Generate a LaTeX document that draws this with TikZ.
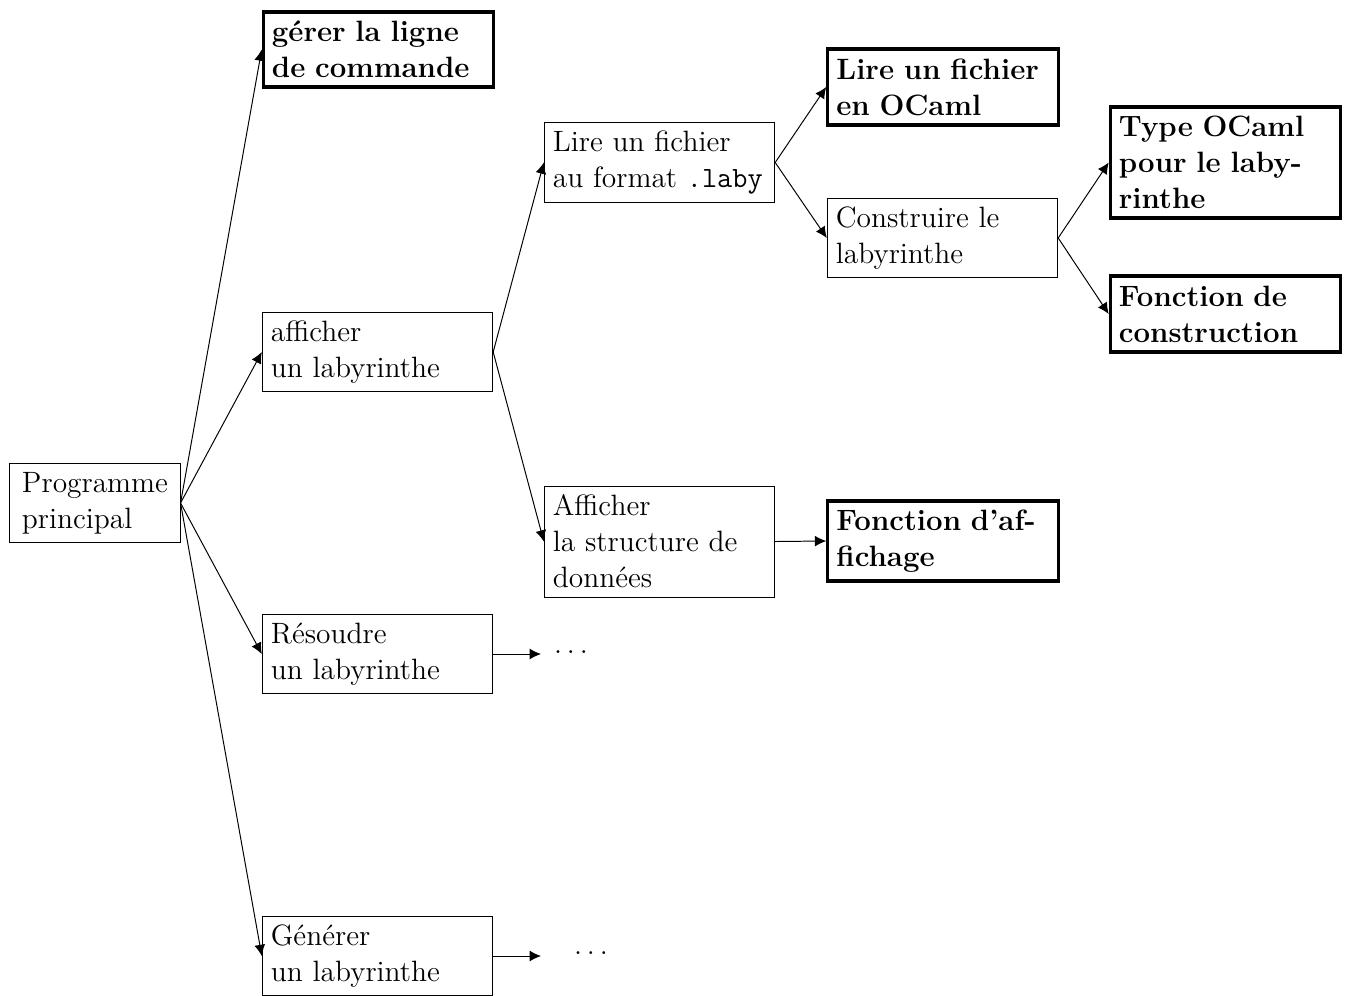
\documentclass[tikz,border=0pt]{standalone}
\usetikzlibrary{arrows.meta}
\begin{document}
\begin{tikzpicture}[x=0.408pt,y=-0.408pt,
  font=\fontsize{12}{14.7}\selectfont,
  box/.style={draw, line width=0.4pt, text width=87pt, align=left, inner xsep=3.5pt, inner ysep=2pt, minimum height=32.6pt},
  strong/.style={box, line width=1.3pt, font=\fontsize{12}{14.7}\selectfont\bfseries},
  arr/.style={-{Latex[length=4.6pt,width=4.4pt]}, line width=0.4pt}]
\clip (0,0) rectangle (1346,995);
\useasboundingbox (0,0) rectangle (1346,995);

\node[draw, line width=0.4pt, align=left, inner xsep=3.5pt, inner ysep=2pt, minimum height=32.6pt, minimum width=69.4pt] (prog) at (95,503) {Programme\\principal};

\node[strong, minimum height=30.6pt] (gerer) at (378.5,49.5) {gérer la ligne\\de commande};
\node[box] (aff) at (377.5,352) {afficher\\un labyrinthe};
\node[box] (res) at (377.5,654) {Résoudre\\un labyrinthe};
\node[box] (gen) at (377.5,956) {Générer\\un labyrinthe};

\node[box] (lire) at (659.5,162.5) {Lire un fichier\\au format \texttt{.laby}};
\node[box, minimum height=45.3pt] (struct) at (659.5,541.5) {Afficher\\la structure de\\données};

\node[strong, minimum height=31pt] (ocaml) at (943,87) {Lire un fichier\\en OCaml};
\node[box] (constr) at (942.5,238) {Construire le\\labyrinthe};
\node[strong] (faff) at (943,541) {Fonction d'af-\\fichage};

\node[strong, minimum height=45.3pt] (type) at (1225.5,162.5) {Type OCaml\\pour le laby-\\rinthe};
\node[strong, minimum height=31pt] (fcons) at (1225.5,314) {Fonction de\\construction};

\node (dots1) at (571,652) {$\ldots$};
\node (dots2) at (591,953) {$\ldots$};
\coordinate (e1) at (541,654);
\coordinate (e2) at (541,956);

\draw[arr] (prog.east) -- (gerer.west);
\draw[arr] (prog.east) -- (aff.west);
\draw[arr] (prog.east) -- (res.west);
\draw[arr] (prog.east) -- (gen.west);
\draw[arr] (aff.east) -- (lire.west);
\draw[arr] (aff.east) -- (struct.west);
\draw[arr] (lire.east) -- (ocaml.west);
\draw[arr] (lire.east) -- (constr.west);
\draw[arr] (constr.east) -- (type.west);
\draw[arr] (constr.east) -- (fcons.west);
\draw[arr] (struct.east) -- (faff.west);
\draw[arr] (res.east) -- (e1);
\draw[arr] (gen.east) -- (e2);
\end{tikzpicture}
\end{document}
